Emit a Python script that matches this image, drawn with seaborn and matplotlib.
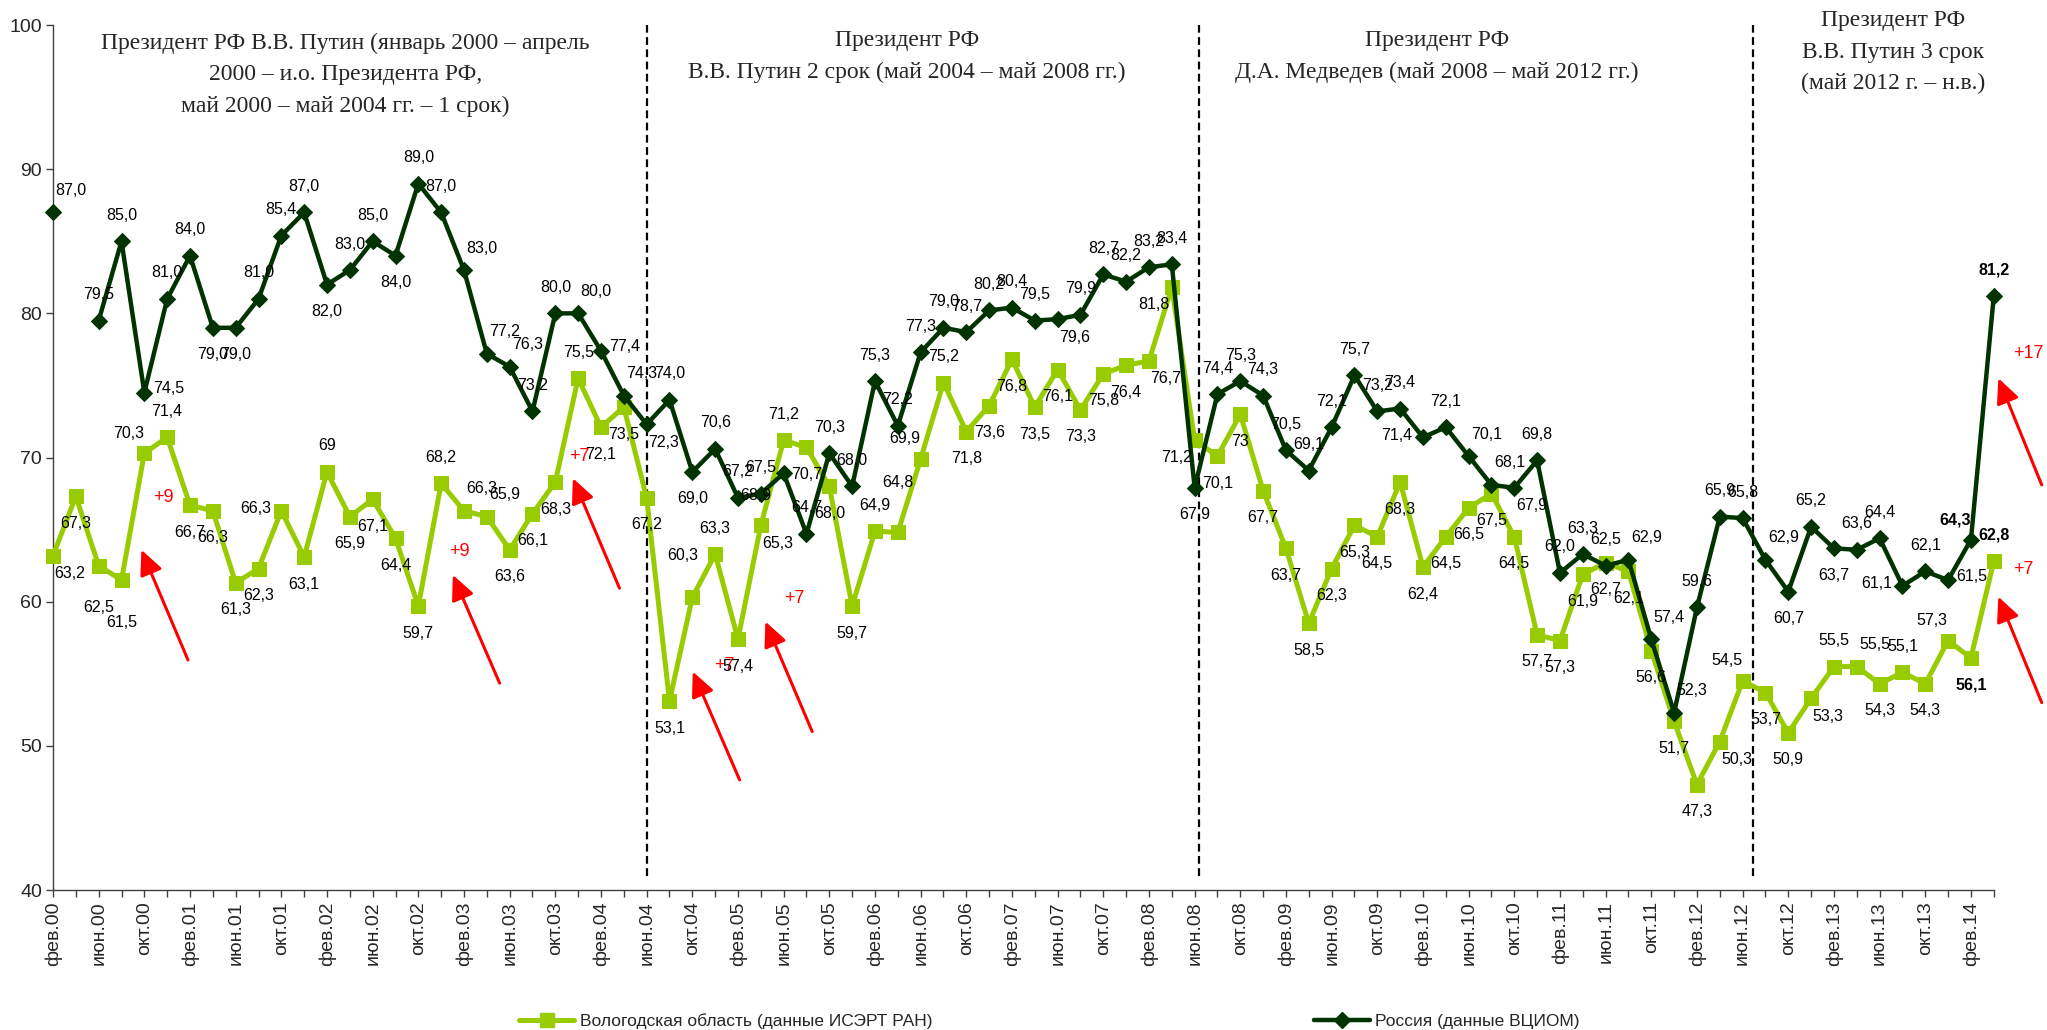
import numpy as np
import pandas as pd
import matplotlib
matplotlib.use("Agg")
import matplotlib.pyplot as plt
from matplotlib.lines import Line2D
import seaborn as sns

# bi-monthly survey waves, фев.00 ... апр.14
months = ['фев', 'апр', 'июн', 'авг', 'окт', 'дек']
years = list(range(2000, 2015))
periods = [f'{m}.{y % 100:02d}' for y in years for m in months][:86]

# Vologda oblast (ISEDT RAS)
vologda = [63.2, 67.3, 62.5, 61.5, 70.3, 71.4, 66.7, 66.3, 61.3, 62.3,
           66.3, 63.1, 69, 65.9, 67.1, 64.4, 59.7, 68.2, 66.3, 65.9,
           63.6, 66.1, 68.3, 75.5, 72.1, 73.5, 67.2, 53.1, 60.3, 63.3,
           57.4, 65.3, 71.2, 70.7, 68.0, 59.7, 64.9, 64.8, 69.9, 75.2,
           71.8, 73.6, 76.8, 73.5, 76.1, 73.3, 75.8, 76.4, 76.7, 81.8,
           71.2, 70.1, 73, 67.7, 63.7, 58.5, 62.3, 65.3, 64.5, 68.3,
           62.4, 64.5, 66.5, 67.5, 64.5, 57.7, 57.3, 61.9, 62.7, 62.1,
           56.6, 51.7, 47.3, 50.3, 54.5, 53.7, 50.9, 53.3, 55.5, 55.5,
           54.3, 55.1, 54.3, 57.3, 56.1, 62.8]

# Russia (VCIOM); no survey in апр.00
russia = [87.0, None, 79.5, 85.0, 74.5, 81.0, 84.0, 79.0, 79.0, 81.0,
          85.4, 87.0, 82.0, 83.0, 85.0, 84.0, 89.0, 87.0, 83.0, 77.2,
          76.3, 73.2, 80.0, 80.0, 77.4, 74.3, 72.3, 74.0, 69.0, 70.6,
          67.2, 67.5, 68.9, 64.7, 70.3, 68.0, 75.3, 72.2, 77.3, 79.0,
          78.7, 80.2, 80.4, 79.5, 79.6, 79.9, 82.7, 82.2, 83.2, 83.4,
          67.9, 74.4, 75.3, 74.3, 70.5, 69.1, 72.1, 75.7, 73.2, 73.4,
          71.4, 72.1, 70.1, 68.1, 67.9, 69.8, 62.0, 63.3, 62.5, 62.9,
          57.4, 52.3, 59.6, 65.9, 65.8, 62.9, 60.7, 65.2, 63.7, 63.6,
          64.4, 61.1, 62.1, 61.5, 64.3, 81.2]

# where each value label sits relative to its point
vologda_pos = ('br b bb bb al a b b b b l b a b b b b a ar ar '
               'b b b a b b b b aal a b br a b b b a aa al a '
               'b b b b b b b b br bl bl b b b b b b b b b '
               'b b b b b b b b b b b b b br al b b br a ar '
               'b a b al b a').split()
russia_pos = ('ar - a a r a a b b a a a b a a b a a ar ar '
              'ar a a ar r ar br a b a a a bll a a a a a a a '
              'a a a a br a a a a a b a a a a a a a a a '
              'l a ar ar br a a a a ar ar ar a a a ar b a b a '
              'a l a r al a').split()

# presidential terms
term_breaks = [26, 50.2, 74.45]
term_titles = ['Президент РФ В.В. Путин (январь 2000 – апрель\n2000 – и.о. Президента РФ,\nмай 2000 – май 2004 гг. – 1 срок)',
               'Президент РФ\nВ.В. Путин 2 срок (май 2004 – май 2008 гг.)',
               'Президент РФ\nД.А. Медведев (май 2008 – май 2012 гг.)',
               'Президент РФ\nВ.В. Путин 3 срок\n(май 2012 г. – н.в.)']
term_title_x = [12.8, 37.4, 60.6, 80.6]
term_title_y = [96.55, 97.8, 97.8, 98.1]

# red arrows: tail, head, text position, text
arrow_tail = [(5.91, 55.96), (19.56, 54.35), (24.81, 60.94), (30.07, 47.64),
              (33.25, 50.99), (87.1, 68.1), (87.1, 53.0)]
arrow_head = [(3.87, 63.6), (17.51, 61.86), (22.77, 68.56), (28.02, 55.15),
              (31.2, 58.62), (85.2, 75.5), (85.2, 60.35)]
arrow_text_xy = [(4.82, 67.2), (17.8, 63.5), (23.06, 70.06), (29.41, 55.55),
                 (32.47, 60.24), (86.5, 77.2), (86.3, 62.2)]
arrow_text = ['+9', '+9', '+7', '+7', '+7', '+17', '+7']

GREEN = '#99CC00'
DARK = '#003300'
PX = 72 / 100  # pixels -> points at dpi 100
offsets = {'a': (0, 26), 'aa': (0, 50), 'b': (0, -27), 'bb': (0, -42),
           'ar': (18, 22), 'al': (-16, 20), 'aal': (-10, 42), 'br': (17, -18),
           'bl': (-18, -17), 'bll': (-28, -22), 'r': (24, 4), 'l': (-26, 2)}

sns.set_theme(style='white')
plt.rcParams['font.family'] = ['Liberation Sans', 'DejaVu Sans']

idx = np.arange(len(periods))
df_v = pd.DataFrame({'idx': idx, 'value': vologda})
df_r = pd.DataFrame({'idx': idx, 'value': pd.array(russia, dtype='Float64').astype(float)})
df_r['seg'] = df_r['value'].isna().cumsum()
df_r = df_r.dropna()

fig = plt.figure(figsize=(20.47, 10.30), dpi=100)
ax = fig.add_axes([0.0259, 0.1359, 0.974 - 0.0259, 0.9757 - 0.1359])

sns.lineplot(data=df_v, x='idx', y='value', color=GREEN, marker='s', markersize=9.5,
             markeredgecolor=GREEN, linewidth=3.6, clip_on=False, zorder=3, ax=ax)
sns.lineplot(data=df_r, x='idx', y='value', units='seg', estimator=None, color=DARK,
             marker='D', markersize=8.5, markeredgecolor=DARK, linewidth=3.2,
             clip_on=False, zorder=4, ax=ax)

ax.set_xlim(0, 85)
ax.set_ylim(40, 100)
ax.set_xlabel('')
ax.set_ylabel('')
ax.set_yticks(range(40, 101, 10))
ax.set_xticks(idx)
ax.set_xticklabels([p if i % 2 == 0 else '' for i, p in enumerate(periods)],
                   rotation=90, fontsize=14)
ax.tick_params(axis='y', labelsize=14, length=5, width=1, color='#404040', direction='out', left=True, pad=3)
ax.tick_params(axis='x', length=5, width=1, color='#404040', direction='out', bottom=True, pad=3)
for side in ['top', 'right']:
    ax.spines[side].set_visible(False)
for side in ['left', 'bottom']:
    ax.spines[side].set_color('#404040')
    ax.spines[side].set_linewidth(1)

ax.vlines(term_breaks, 41, 100, colors='black', linestyles=(0, (3.5, 2)), linewidth=1.6, zorder=2)

for x, y, t in zip(term_title_x, term_title_y, term_titles):
    ax.text(x, y, t, ha='center', va='center', fontsize=17, linespacing=1.65,
            family=['Liberation Serif', 'DejaVu Serif'], clip_on=False)

# value labels
for values, pos in [(vologda, vologda_pos), (russia, russia_pos)]:
    for i, (v, p) in enumerate(zip(values, pos)):
        if v is None:
            continue
        dx, dy = offsets[p]
        ax.annotate(str(v).replace('.', ','), (i, v), xytext=(dx * PX, dy * PX),
                    textcoords='offset points', ha='center', va='center',
                    fontsize=11.5, color='black',
                    fontweight='bold' if i >= 84 else 'normal',
                    annotation_clip=False, zorder=5)

for tail, head, txy, t in zip(arrow_tail, arrow_head, arrow_text_xy, arrow_text):
    ax.annotate('', xy=head, xytext=tail, annotation_clip=False,
                arrowprops=dict(arrowstyle='-|>,head_length=0.75,head_width=0.35',
                                color='red', lw=2.2, mutation_scale=20,
                                shrinkA=0, shrinkB=0))
    ax.text(txy[0], txy[1], t, color='red', fontsize=13, ha='center', va='center',
            clip_on=False)

handles = [Line2D([], [], color=GREEN, lw=3.6, marker='s', markersize=9.5, markeredgecolor=GREEN),
           Line2D([], [], color=DARK, lw=3.2, marker='D', markersize=8.5, markeredgecolor=DARK)]
fig.legend(handles, ['Вологодская область (данные ИСЭРТ РАН)', 'Россия (данные ВЦИОМ)'],
           loc='center', bbox_to_anchor=(0.5125, 0.009), ncol=2, frameon=False,
           columnspacing=22, handlelength=3.2, handletextpad=0.3, fontsize=12.5)

fig.savefig('out.png', dpi=100)
